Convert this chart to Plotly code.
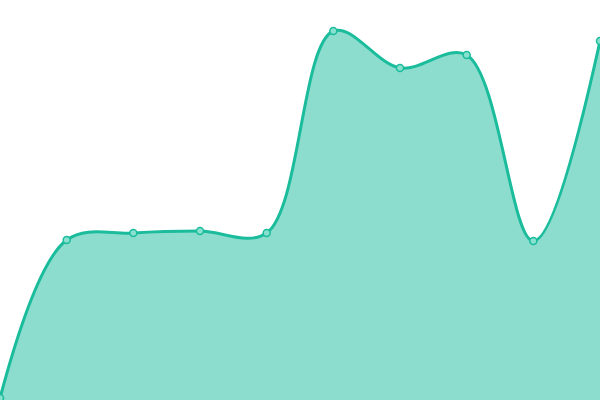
import plotly.graph_objects as go

labels = [0, 1, 2, 3, 4, 5, 6, 7, 8, 9]
values = [2, 160, 167, 169, 167, 369, 332, 345, 159, 359]

fig = go.Figure()
fig.add_trace(go.Scatter(
    x=labels, y=values,
    mode='lines+markers',
    line=dict(color='#1abc9c', width=3, shape='spline', smoothing=1),
    fill='tozeroy',
    fillcolor='rgba(26,188,156,0.5)',
    marker=dict(size=7, color='#89e0cf', line=dict(color='#1abc9c', width=1.5)),
    cliponaxis=False,
))

fig.update_layout(
    width=600, height=400,
    margin=dict(l=0, r=0, t=0, b=0),
    paper_bgcolor='white', plot_bgcolor='white',
    showlegend=False,
    xaxis=dict(visible=False, range=[0, 9]),
    yaxis=dict(visible=False, range=[0, 400]),
)

# strip the default body margin so the plot sits flush in the window
fig.write_html("out.html",
               config={'displayModeBar': False},
               post_script="document.body.style.margin='0';document.body.style.overflow='hidden';")
